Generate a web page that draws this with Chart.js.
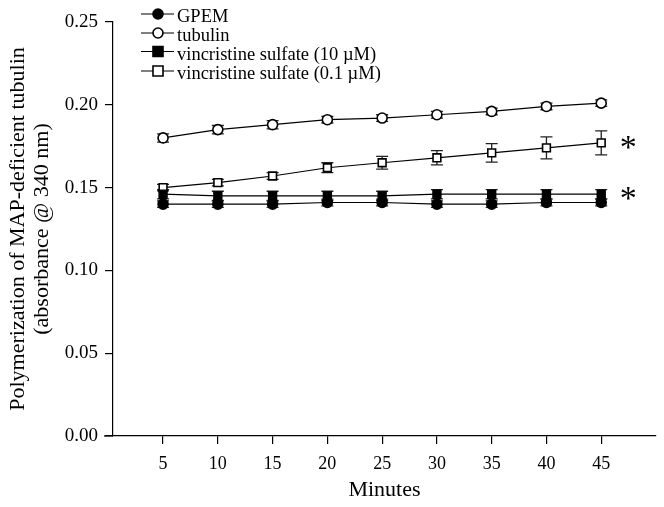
<!DOCTYPE html>
<html>
<head>
<meta charset="utf-8">
<script src="https://cdn.jsdelivr.net/npm/chart.js@4"></script>
<style>
html,body{margin:0;padding:0;background:#fff;}
#wrap{width:664px;height:507px;position:relative;}
</style>
</head>
<body>
<div id="wrap"><canvas id="c" width="664" height="507"></canvas></div>
<script>
// ---- data ----
const minutes = [5, 10, 15, 20, 25, 30, 35, 40, 45];
const xTickValues = [5, 10, 15, 20, 25, 30, 35, 40, 45];
const yTickValues = [0.00, 0.05, 0.10, 0.15, 0.20, 0.25];

const gpem      = [0.140, 0.140, 0.140, 0.141, 0.141, 0.140, 0.140, 0.141, 0.141];
const gpemErr   = [0.002, 0.002, 0.002, 0.002, 0.002, 0.002, 0.002, 0.002, 0.002];
const tubulin   = [0.180, 0.185, 0.188, 0.191, 0.192, 0.194, 0.196, 0.199, 0.201];
const tubulinErr= [0.0025, 0.0025, 0.0025, 0.002, 0.002, 0.002, 0.002, 0.002, 0.002];
const vinc10    = [0.146, 0.145, 0.145, 0.145, 0.145, 0.146, 0.146, 0.146, 0.146];
const vinc10Err = [0.0028, 0.0028, 0.0028, 0.0028, 0.0028, 0.0028, 0.0028, 0.0028, 0.0028];
const vinc01    = [0.150, 0.153, 0.157, 0.162, 0.165, 0.168, 0.171, 0.174, 0.177];
const vinc01Err = [0.002, 0.002, 0.002, 0.003, 0.0038, 0.0043, 0.0056, 0.0066, 0.0072];

const seriesNames = ['GPEM', 'tubulin', 'vincristine sulfate (10 \u00b5M)', 'vincristine sulfate (0.1 \u00b5M)'];
const significant = [false, false, true, true];

const FONT = '"Liberation Serif", "Times New Roman", serif';

function pts(vals){ return minutes.map((m,i)=>({x:m, y:vals[i]})); }

const styles = [
  {pointStyle:'circle', fill:'#000', radius:5},
  {pointStyle:'circle', fill:'#fff', radius:5},
  {pointStyle:'rect',   fill:'#000', radius:5.5},
  {pointStyle:'rect',   fill:'#fff', radius:5.5}
];
const values = [gpem, tubulin, vinc10, vinc01];
const errors = [gpemErr, tubulinErr, vinc10Err, vinc01Err];

const datasets = values.map((v,i)=>({
  label: seriesNames[i],
  data: pts(v),
  errs: errors[i],
  borderColor:'#000',
  borderWidth:1.2,
  pointStyle: styles[i].pointStyle,
  pointRadius: styles[i].radius,
  pointBackgroundColor: styles[i].fill,
  pointBorderColor:'#000',
  pointBorderWidth:1.6,
  tension:0,
  fill:false
}));

const errorBars = {
  id:'errorBars',
  beforeDatasetsDraw(chart){
    const ctx = chart.ctx, xs = chart.scales.x, ys = chart.scales.y;
    ctx.save();
    ctx.strokeStyle = '#222';
    ctx.lineWidth = 1.3;
    chart.data.datasets.forEach(ds=>{
      ds.data.forEach((p,i)=>{
        const e = ds.errs[i];
        const x = xs.getPixelForValue(p.x);
        const y1 = ys.getPixelForValue(p.y + e), y2 = ys.getPixelForValue(p.y - e);
        ctx.beginPath();
        ctx.moveTo(x, y1); ctx.lineTo(x, y2);
        ctx.moveTo(x-6, y1); ctx.lineTo(x+6, y1);
        ctx.moveTo(x-6, y2); ctx.lineTo(x+6, y2);
        ctx.stroke();
      });
    });
    ctx.restore();
  }
};

const extras = {
  id:'extras',
  afterDraw(chart){
    const ctx = chart.ctx, xs = chart.scales.x, ys = chart.scales.y, ca = chart.chartArea;
    ctx.save();
    // small extension of x axis line to the left of the y axis
    ctx.strokeStyle = '#000'; ctx.lineWidth = 1.2;
    ctx.beginPath(); ctx.moveTo(ca.left - 9, ca.bottom); ctx.lineTo(ca.left, ca.bottom); ctx.stroke();
    // significance asterisks
    ctx.fillStyle = '#000';
    ctx.font = '34px ' + FONT;
    ctx.textAlign = 'center'; ctx.textBaseline = 'middle';
    chart.data.datasets.forEach((ds,i)=>{
      if(!significant[i]) return;
      const last = ds.data[ds.data.length-1];
      const x = xs.getPixelForValue(last.x) + 27;
      const y = ys.getPixelForValue(last.y) + 6;
      ctx.fillText('*', x, y);
    });
    // legend
    const rowY = [14, 33, 51.5, 71];
    ctx.font = '18.5px ' + FONT;
    ctx.textAlign = 'left';
    chart.data.datasets.forEach((ds,i)=>{
      const y = rowY[i];
      ctx.strokeStyle = '#000'; ctx.lineWidth = 1.2;
      ctx.beginPath(); ctx.moveTo(141, y); ctx.lineTo(174, y); ctx.stroke();
      ctx.lineWidth = 1.6; ctx.fillStyle = styles[i].fill;
      ctx.beginPath();
      if (styles[i].pointStyle === 'circle') {
        ctx.arc(158, y, 5, 0, Math.PI*2);
      } else {
        ctx.rect(158-5, y-5, 10, 10);
      }
      ctx.fill(); ctx.stroke();
      ctx.fillStyle = '#000';
      ctx.textBaseline = 'middle';
      ctx.fillText(ds.label, 177, y + 3.5);
    });
    ctx.restore();
  }
};

new Chart(document.getElementById('c'), {
  type:'line',
  data:{datasets},
  options:{
    responsive:false,
    animation:false,
    layout:{padding:{top:22, right:8, left:0, bottom:0}},
    plugins:{legend:{display:false}, tooltip:{enabled:false}},
    scales:{
      x:{
        type:'linear',
        min:0.43, max:50,
        afterBuildTicks(s){ s.ticks = xTickValues.map(v=>({value:v})); },
        afterFit(s){ s.height = 71; },
        grid:{drawOnChartArea:false, tickLength:8, color:'#000', lineWidth:1.2},
        border:{color:'#000', width:1.2},
        ticks:{color:'#000', font:{family:FONT, size:18}, padding:9, maxRotation:0,
               callback:(v)=>String(v)},
        title:{display:true, text:'Minutes', color:'#000',
               font:{family:FONT, size:22, lineHeight:1.1}, padding:{top:0, bottom:5}}
      },
      y:{
        min:0, max:0.25,
        afterBuildTicks(s){ s.ticks = yTickValues.map(v=>({value:v})); },
        afterFit(s){ s.width = 113; },
        grid:{drawOnChartArea:false, tickLength:8, color:'#000', lineWidth:1.2},
        border:{color:'#000', width:1.2},
        ticks:{color:'#000', font:{family:FONT, size:19}, padding:7,
               callback:(v)=>Number(v).toFixed(2)},
        title:{display:true, text:['Polymerization of MAP-deficient tubulin','(absorbance @ 340 nm)'],
               color:'#000', font:{family:FONT, size:22, lineHeight:1.1}, padding:{top:6, bottom:0}}
      }
    }
  },
  plugins:[errorBars, extras]
});
</script>
</body>
</html>
